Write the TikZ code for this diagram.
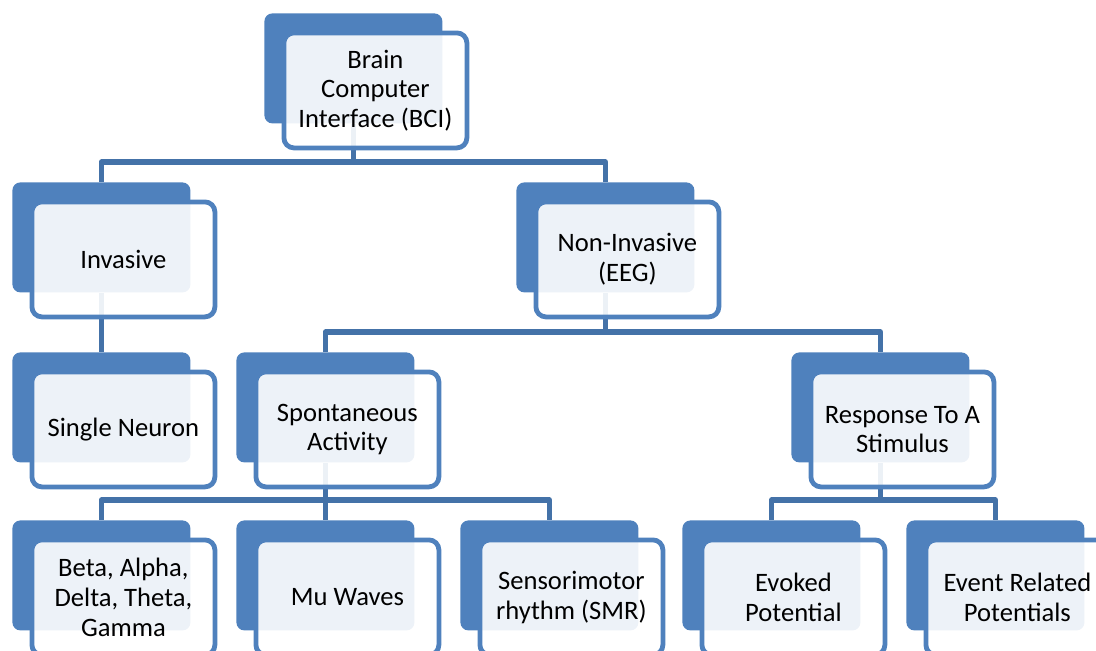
\documentclass[tikz,border=0pt]{standalone}
\usepackage{fontspec}
\setmainfont{Carlito}
\usepackage{xcolor}
\usetikzlibrary{positioning}
\definecolor{bcblue}{HTML}{4F81BD}
\definecolor{bcline}{HTML}{4472A8}
\tikzset{
  backbox/.style ={rectangle, rounded corners=4pt, fill=bcblue, inner sep=0pt,
                   minimum width=89pt, minimum height=55pt, anchor=north west},
  frontbox/.style={rectangle, rounded corners=5pt, draw=bcblue, line width=2.4pt,
                   fill=white, fill opacity=0.9, text opacity=1, align=center,
                   minimum width=91.5pt, minimum height=57.5pt, anchor=north west,
                   inner sep=2pt, font=\fontsize{13.3}{14.8}\selectfont},
  conn/.style    ={draw=bcline, line width=2.6pt, line join=round},
}

\begin{document}
\begin{tikzpicture}[x=0.5pt,y=-0.5pt]
\useasboundingbox (0,0) rectangle (1096,650);
% back cards
\foreach \nm/\px/\py in {root/264/13, inv/12/182, noninv/516/182,
    single/12/352, spont/236/352, resp/791/352,
    beta/12/520, mu/236/520, smr/460/520, evoked/682/520, erp/906/520}
  \node[backbox] (\nm-b) at (\px,\py) {};
% connectors
\draw[conn] (root-b.south) -- (root-b.south |- 0,162);
\draw[conn] (inv-b.north) |- (noninv-b.north |- 0,162) -- (noninv-b.north);
\draw[conn] (inv-b.south) -- (single-b.north);
\draw[conn] (noninv-b.south) -- (noninv-b.south |- 0,332);
\draw[conn] (spont-b.north) |- (resp-b.north |- 0,332) -- (resp-b.north);
\draw[conn] (spont-b.south) -- (mu-b.north);
\draw[conn] (beta-b.north) |- (smr-b.north |- 0,500) -- (smr-b.north);
\draw[conn] (resp-b.south) -- (resp-b.south |- 0,500);
\draw[conn] (evoked-b.north) |- (erp-b.north |- 0,500) -- (erp-b.north);
% front cards
\node[frontbox] (root) at ([shift={(17.5,17.5)}]root-b.north west)
  {Brain\\Computer\\Interface (BCI)};
\node[frontbox] (inv) at ([shift={(17.5,17.5)}]inv-b.north west) {Invasive};
\node[frontbox] (noninv) at ([shift={(17.5,17.5)}]noninv-b.north west)
  {Non-Invasive\\(EEG)};
\node[frontbox] (single) at ([shift={(17.5,17.5)}]single-b.north west) {Single Neuron};
\node[frontbox] (spont) at ([shift={(17.5,17.5)}]spont-b.north west)
  {Spontaneous\\Activity};
\node[frontbox] (resp) at ([shift={(17.5,17.5)}]resp-b.north west)
  {Response To A\\Stimulus};
\node[frontbox] (beta) at ([shift={(17.5,17.5)}]beta-b.north west)
  {Beta, Alpha,\\Delta, Theta,\\Gamma};
\node[frontbox] (mu) at ([shift={(17.5,17.5)}]mu-b.north west) {Mu Waves};
\node[frontbox] (smr) at ([shift={(17.5,17.5)}]smr-b.north west)
  {Sensorimotor\\rhythm (SMR)};
\node[frontbox] (evoked) at ([shift={(17.5,17.5)}]evoked-b.north west)
  {Evoked\\Potential};
\node[frontbox] (erp) at ([shift={(17.5,17.5)}]erp-b.north west)
  {Event Related\\Potentials};
\end{tikzpicture}
\end{document}
